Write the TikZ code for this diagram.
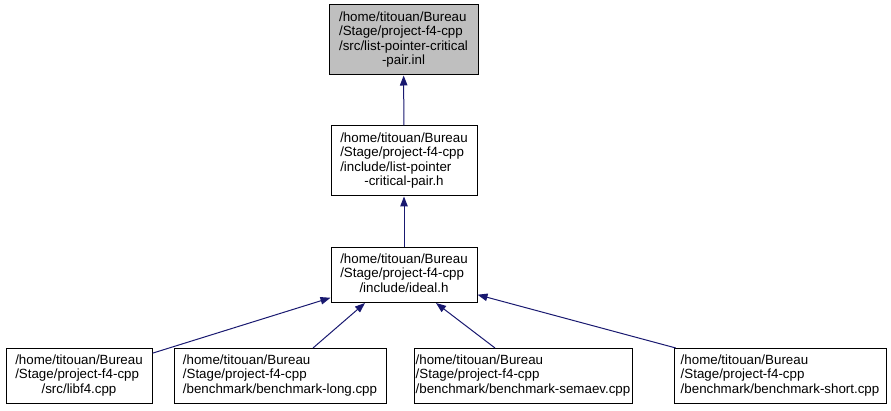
\documentclass[tikz,border=0pt]{standalone}
\usepackage{fontspec}
\setmainfont{Liberation Sans}
\usetikzlibrary{arrows.meta,calc}
\definecolor{midnight}{HTML}{191970}
\definecolor{topgray}{HTML}{BFBFBF}
\begin{document}
\begin{tikzpicture}[x=1pt,y=-1pt,
  box/.style={draw=black, line width=1pt, inner sep=0pt, text=black,
    font=\fontsize{13.33}{14.6}\selectfont},
  edge/.style={draw=midnight, line width=1pt, -{Triangle[length=10pt,width=7.5pt]}}]
\useasboundingbox (0,0) rectangle (891,411);
\node[box, fill=topgray, minimum width=149pt, minimum height=70pt] (src) at (403.5,40)
  {\begin{tabular}{@{}l@{}}/home/titouan/Bureau\\/Stage/project-f4-cpp\\/src/list-pointer-critical\\\multicolumn{1}{@{}c@{}}{-pair.inl}\end{tabular}};
\node[box, minimum width=146pt, minimum height=70pt] (inc) at (404,161)
  {\begin{tabular}{@{}l@{}}/home/titouan/Bureau\\/Stage/project-f4-cpp\\/include/list-pointer\\\multicolumn{1}{@{}c@{}}{-critical-pair.h}\end{tabular}};
\node[box, minimum width=146pt, minimum height=55pt] (ideal) at (404,275)
  {\begin{tabular}{@{}l@{}}/home/titouan/Bureau\\/Stage/project-f4-cpp\\\multicolumn{1}{@{}c@{}}{/include/ideal.h}\end{tabular}};
\node[box, minimum width=146pt, minimum height=55pt] (n1) at (79,376)
  {\begin{tabular}{@{}l@{}}/home/titouan/Bureau\\/Stage/project-f4-cpp\\\multicolumn{1}{@{}c@{}}{/src/libf4.cpp}\end{tabular}};
\node[box, minimum width=212pt, minimum height=55pt] (n2) at (280,376)
  {\begin{tabular}{@{}l@{}}/home/titouan/Bureau\\/Stage/project-f4-cpp\\/benchmark/benchmark-long.cpp\end{tabular}};
\node[box, minimum width=218pt, minimum height=55pt] (n3) at (523,376)
  {\begin{tabular}{@{}l@{}}/home/titouan/Bureau\\/Stage/project-f4-cpp\\/benchmark/benchmark-semaev.cpp\end{tabular}};
\node[box, minimum width=212pt, minimum height=55pt] (n4) at (780,376)
  {\begin{tabular}{@{}l@{}}/home/titouan/Bureau\\/Stage/project-f4-cpp\\/benchmark/benchmark-short.cpp\end{tabular}};
\draw[edge] (inc) -- (src);
\draw[edge] (ideal) -- (inc);
\draw[edge] (n1) -- (ideal);
\draw[edge] ($(n2.north)+(33,0)$) -- ($(ideal.south)+(-39,0)$);
\draw[edge] ($(n3.north)+(-28,0)$) -- ($(ideal.south)+(32,0)$);
\draw[edge] (n4) -- (ideal);
\end{tikzpicture}
\end{document}
